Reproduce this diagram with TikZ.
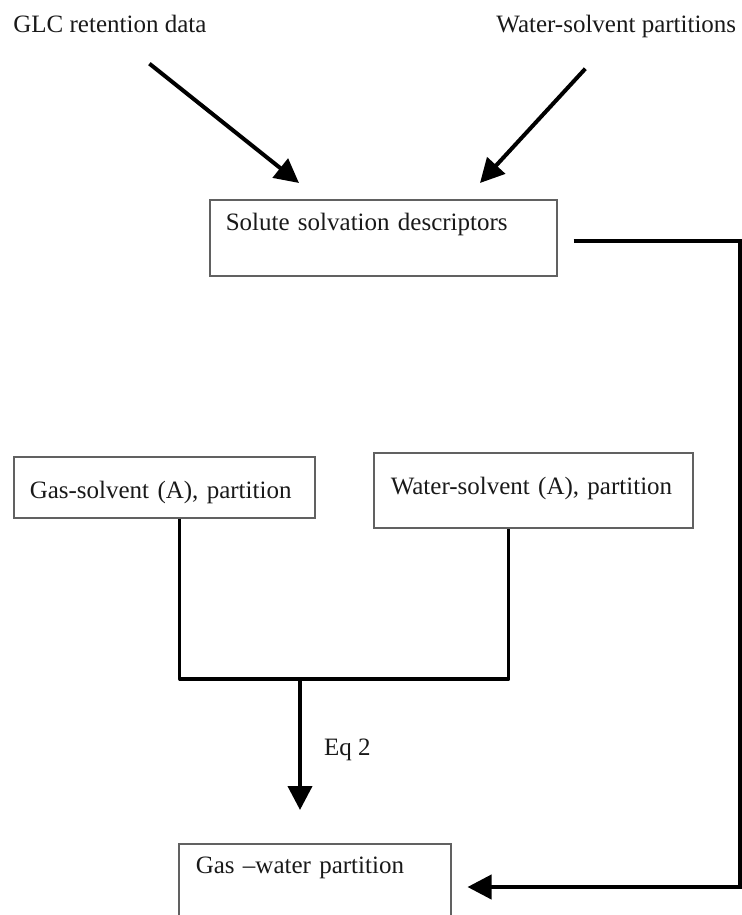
\documentclass[tikz,border=0pt]{standalone}
\usepackage{fontspec}
\setmainfont{Liberation Serif}
\usetikzlibrary{arrows.meta}
\definecolor{boxgray}{gray}{0.38}
\definecolor{inkgray}{gray}{0.1}

\tikzset{
  partbox/.style={draw=boxgray, line width=0.75pt, anchor=north west,
    inner xsep=8pt, inner ysep=0pt, align=left},
  flowarrow/.style={line width=2pt, -{Triangle[width=12pt,length=12pt]}},
  joinline/.style={line width=1.6pt, line join=round},
}

\begin{document}
\begin{tikzpicture}[x=0.5pt, y=-0.5pt, text=inkgray,
    font=\fontsize{12.5}{15}\selectfont]
  \useasboundingbox (0,0) rectangle (742,915);

  % sources
  \node[anchor=base west, inner sep=0pt] (glc) at (13,33) {GLC retention data};
  \node[anchor=base west, inner sep=0pt] (watpart) at (496,33) {Water-solvent partitions};

  % boxes
  \node[partbox, text width=157.5pt, text height=15.5pt, text depth=22.5pt]
    (solute) at (209,199) {Solute solvation descriptors};
  \node[partbox, text width=134.5pt, text height=21pt, text depth=9.5pt]
    (gassolv) at (13,456) {Gas-solvent (A), partition};
  \node[partbox, inner xsep=8.5pt, text width=142.5pt, text height=21pt, text depth=16.5pt]
    (watsolv) at (373,452) {Water-solvent (A), partition};
  \node[partbox, inner xsep=8.5pt, text width=119pt, text height=15pt, text depth=22.5pt]
    (gaswater) at (178,843) {Gas –water partition};

  \coordinate (join) at (300,679);

  % connectors
  \draw[flowarrow] ([shift={(39.5,30)}]glc.south) -- ([shift={(90,-16)}]solute.north west);
  \draw[flowarrow] ([shift={(-31,30)}]watpart.south) -- ([shift={(271,-16)}]solute.north west);
  \draw[flowarrow, line join=miter]
    ([shift={(16,42)}]solute.north east) -- ++(166,0) |- ([shift={(16,44)}]gaswater.north east);
  \draw[joinline]
    ([shift={(15.5,0)}]gassolv.south) |- (join) -| ([shift={(-24.5,0)}]watsolv.south);
  \draw[flowarrow] (join) -- ([shift={(0,-33)}]gaswater.north west -| join)
    node[pos=0.54, anchor=west, inner sep=0pt, xshift=11pt] (eqlabel) {Eq 2};
\end{tikzpicture}
\end{document}
